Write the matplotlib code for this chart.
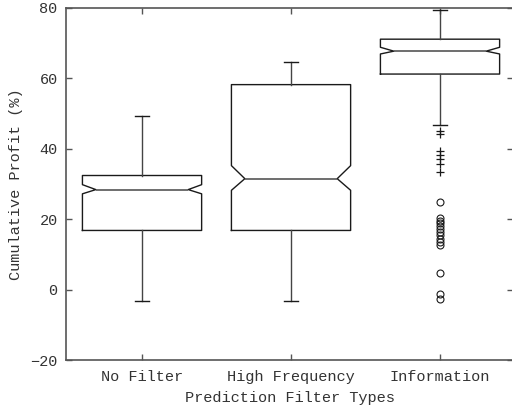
import matplotlib
matplotlib.use("Agg")
import matplotlib.pyplot as plt

categories = ["No Filter", "High Frequency", "Information"]
q1 = [16.8, 16.8, 61.2]
q3 = [32.4, 58.2, 71.1]
med = [28.4, 31.5, 67.7]
ci_lo = [27.2, 28.2, 66.9]
ci_hi = [29.8, 35.2, 68.8]
whis_lo = [-3.3, -3.3, 46.8]
whis_hi = [49.3, 64.5, 79.5]
mild_outliers = [[], [], [45.0, 44.2, 39.3, 38.2, 37.0, 35.6, 33.3]]
extreme_outliers = [[], [], [24.8, 20.3, 19.6, 18.9, 18.1, 17.2, 16.3, 15.4, 14.5, 13.6, 12.6, 4.8, -1.2, -2.8]]
yticks = [-20, 0, 20, 40, 60, 80]

plt.rcParams['font.family'] = ['Liberation Mono', 'DejaVu Sans Mono']
fig = plt.figure(figsize=(5.12, 4.12), dpi=100)
ax = fig.add_axes([0.129, 0.126, 0.873, 0.855])

stats = []
for i, c in enumerate(categories):
    stats.append(dict(label=c, med=med[i], q1=q1[i], q3=q3[i], whislo=whis_lo[i],
                      whishi=whis_hi[i], cilo=ci_lo[i], cihi=ci_hi[i],
                      fliers=extreme_outliers[i]))

lc = '#1a1a1a'
positions = [1, 2, 3]
width = 0.8
res = ax.bxp(stats, positions=positions, widths=width, shownotches=True, capwidths=0.1,
             boxprops=dict(color=lc, lw=1.0),
             whiskerprops=dict(color='#444444', lw=1.0),
             capprops=dict(color=lc, lw=1.0),
             medianprops=dict(color='#555555', lw=1.2),
             flierprops=dict(marker='o', markersize=5, markerfacecolor='none',
                             markeredgecolor=lc, markeredgewidth=0.8))

indent = 0.09
for pos, box, mline in zip(positions, res['boxes'], res['medians']):
    xs = list(box.get_xdata())
    new = []
    for x in xs:
        if abs(x - pos) < width / 2 - 1e-6:
            x = pos + (width / 2 - indent) * (1 if x > pos else -1)
        new.append(x)
    box.set_xdata(new)
    mline.set_xdata([pos - (width / 2 - indent), pos + (width / 2 - indent)])

for i, pos in enumerate(positions):
    if mild_outliers[i]:
        ax.plot([pos] * len(mild_outliers[i]), mild_outliers[i], linestyle='none',
                marker='+', markersize=6, color=lc, markeredgewidth=0.9)

ax.set_xlim(0.49, 3.49)
ax.set_ylim(-20, 80)
ax.set_yticks(yticks)
ax.set_xticks(positions)
ax.set_xticklabels(categories)
ax.tick_params(direction='in', top=True, right=True, length=4, width=1,
               colors='#555555', labelcolor='#333333', labelsize=11)
ax.tick_params(axis='y', pad=6)
ax.tick_params(axis='x', pad=7)
for s in ax.spines.values():
    s.set_color('#555555')
    s.set_linewidth(1.2)
ax.spines['right'].set_visible(False)
ax.set_xlabel("Prediction Filter Types", fontsize=11, color='#333333', labelpad=5)
ax.set_ylabel("Cumulative Profit (%)", fontsize=11, color='#333333', labelpad=5)

fig.savefig("out.png", dpi=100)
